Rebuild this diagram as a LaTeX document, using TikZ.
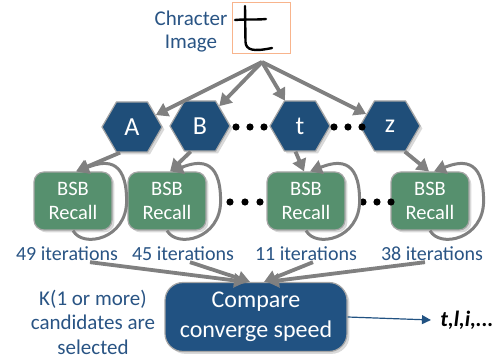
\documentclass[tikz,border=0pt]{standalone}
\usepackage{fontspec}
\setmainfont{Carlito}
\usetikzlibrary{shapes.symbols,arrows.meta,shadows}

\definecolor{txtblue}{RGB}{41,84,132}
\definecolor{hexblue}{RGB}{31,78,121}
\definecolor{bsbgreen}{RGB}{86,144,110}
\definecolor{cmpblue}{RGB}{33,82,130}
\definecolor{arrgray}{RGB}{128,128,128}
\definecolor{imgorange}{RGB}{248,180,140}

\tikzset{
	letter/.style = {signal, signal to = east and west, signal pointer angle = 120,
		minimum width = 60pt, minimum height = 50pt, inner sep = 0pt,
		fill = hexblue, draw = arrgray!70, line width = 1.2pt, text = white,
		font = \fontsize{26}{30}\selectfont, drop shadow = {opacity = 0.3}},
	recall/.style = {rectangle, rounded corners = 10pt, minimum width = 78pt, minimum height = 58pt,
		fill = bsbgreen, draw = arrgray!70, line width = 1.2pt, text = white, align = center,
		font = \fontsize{20.5}{24}\selectfont, drop shadow = {opacity = 0.3}},
	iter/.style = {text = txtblue, inner sep = 1pt, font = \fontsize{20}{24}\selectfont},
	grayarrow/.style = {draw = arrgray, line width = 3.8pt, -{Triangle[length = 12pt, width = 14pt]}},
}

\begin{document}
\begin{tikzpicture}[x = 1pt, y = -1pt]
	\useasboundingbox (0,0) rectangle (499,358);

	% input image
	\node (ctext) [text = txtblue, align = center, font = \fontsize{21}{23}\selectfont] at (191,32) {Chracter\\Image};
	\node (img) [draw = imgorange, line width = 1pt, minimum width = 58pt, minimum height = 51pt] at (261,28) {};
	\draw [shift = {(img.center)}, line width = 2.4pt, line cap = round]
		(-16,-22) -- (-15.5,14) .. controls (-15,22) and (-8,24) .. (11,20)
		(-26,-8) .. controls (-15,-9) and (-5,-8) .. (5,-9);
	\coordinate (fan) at (262,62);

	% candidate letters
	\node (A) [letter] at (132,127) {A};
	\node (B) [letter] at (200,126) {B};
	\node (t) [letter] at (300,126) {t};
	\node (z) [letter] at (390,126) {z};
	\foreach \x in {236,250,264,334,348,362}
		\fill (\x,127) circle (3.6pt);

	\draw [grayarrow] (fan) -- (A);
	\draw [grayarrow] (fan) -- (B);
	\draw [grayarrow] (fan) -- (t);
	\draw [grayarrow] (fan) -- (z);

	% BSB recall boxes
	\node (b1) [recall] at (73,201) {BSB\\Recall};
	\node (b2) [recall] at (167,201) {BSB\\Recall};
	\node (b3) [recall] at (306,201) {BSB\\Recall};
	\node (b4) [recall] at (430,201) {BSB\\Recall};
	\foreach \x in {230,245,260,363,377,391}
		\fill (\x,202) circle (3.6pt);

	\draw [grayarrow] (A.-115) -- ([xshift = 3pt]b1.north);
	\draw [grayarrow] (B.-110) -- ([xshift = 3pt]b2.north);
	\draw [grayarrow] (t.-100) -- ([xshift = -2pt]b3.north);
	\draw [grayarrow] (z.-60) -- ([xshift = -1pt]b4.north);

	\foreach \b in {b1,b2,b3,b4}
		\draw [grayarrow, line width = 3pt] (\b.south) .. controls +(10,18) and +(0,38) .. ([xshift = 14pt]\b.east)
			.. controls +(0,-45) and +(26,-10) .. ([xshift = 4pt]\b.north);

	% iteration counts
	\node (i1) [iter] at (67,254) {49 iterations};
	\node (i2) [iter] at (183,254) {45 iterations};
	\node (i3) [iter] at (306,254) {11 iterations};
	\node (i4) [iter] at (432,254) {38 iterations};

	% comparison
	\node (cmp) [rectangle, rounded corners = 18pt, minimum width = 182pt, minimum height = 69pt,
		fill = cmpblue, draw = arrgray!70, line width = 1.2pt, text = white, align = center,
		font = \fontsize{24}{30}\selectfont, drop shadow = {opacity = 0.3}] at (256,317) {Compare\\converge speed};

	\draw [grayarrow] ([xshift = 23pt]i1.south) -- ([xshift = -10pt]cmp.north);
	\draw [grayarrow] ([xshift = 7pt]i2.south) -- ([xshift = -6pt]cmp.north);
	\draw [grayarrow] ([xshift = 7pt]i3.south) -- ([xshift = 8pt]cmp.north);
	\draw [grayarrow] ([xshift = -7pt]i4.south) -- ([xshift = 11pt]cmp.north);

	\node (note) [text = txtblue, align = center, font = \fontsize{21}{24.5}\selectfont] at (93,322) {K(1 or more)\\candidates are\\selected};

	\node (res) [font = \fontsize{22}{26}\selectfont\bfseries\itshape] at (467,320) {t,l,i,...};
	\draw [cmpblue, line width = 1.2pt, -{Triangle[length = 9pt, width = 9pt]}] (cmp.east) -- ([xshift = -6pt]res.west);
\end{tikzpicture}
\end{document}
